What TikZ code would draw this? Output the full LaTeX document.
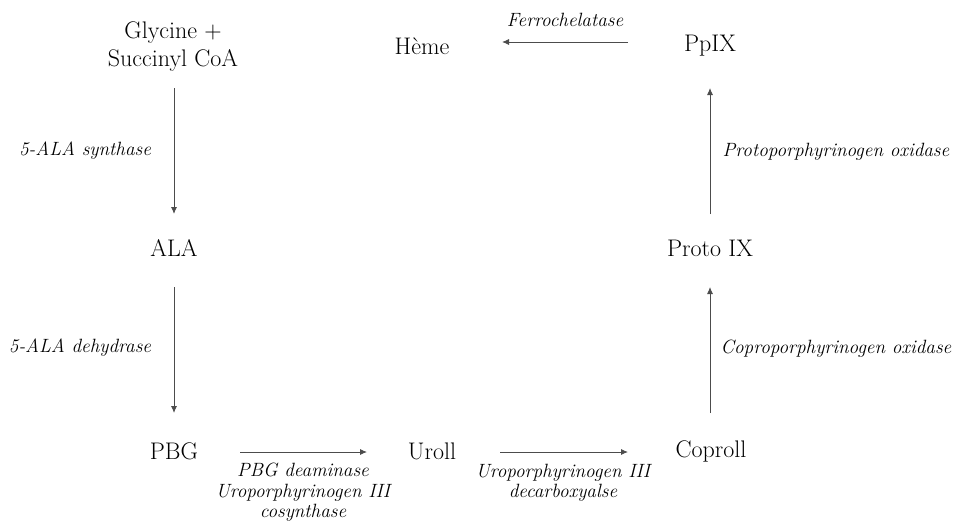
\documentclass[tikz,border=0pt]{standalone}
\usetikzlibrary{arrows.meta}
\begin{document}
\begin{tikzpicture}[x=1pt,y=-1pt,
  met/.style={inner sep=0pt,align=center,font=\fontsize{24}{28}\selectfont},
  enz/.style={inner sep=0pt,align=center,font=\fontsize{19.2}{20.5}\selectfont\itshape},
  rxn/.style={draw=black!70,line width=0.9pt,-{Latex[length=7pt,width=6pt]}}]
\useasboundingbox (0,0) rectangle (955,522);
\node[met] (gly) at (173,47) {Glycine +\\Succinyl CoA};
\node[met] (heme) at (422,46) {Hème};
\node[met] (ppix) at (710,46) {PpIX};
\node[met] (ala) at (174,248) {ALA};
\node[met] (proto) at (710,248) {Proto IX};
\node[met] (pbg) at (174,451) {PBG};
\node[met] (uro) at (432,451) {Uroll};
\node[met] (copro) at (711,451) {Coproll};
\coordinate (a1s) at (174,88); \coordinate (a1e) at (174,214);
\coordinate (a2s) at (174,287); \coordinate (a2e) at (174,413);
\coordinate (a3s) at (240,452); \coordinate (a3e) at (367,452);
\coordinate (a4s) at (500,452); \coordinate (a4e) at (628,452);
\coordinate (a5s) at (710,413); \coordinate (a5e) at (710,287);
\coordinate (a6s) at (710,214); \coordinate (a6e) at (710,88);
\coordinate (a7s) at (628,42); \coordinate (a7e) at (502,42);
\draw[rxn] (a1s) -- (a1e);
\draw[rxn] (a2s) -- (a2e);
\draw[rxn] (a3s) -- (a3e);
\draw[rxn] (a4s) -- (a4e);
\draw[rxn] (a5s) -- (a5e);
\draw[rxn] (a6s) -- (a6e);
\draw[rxn] (a7s) -- (a7e);
\node[enz] (e1) at (85,151) {5-ALA synthase};
\node[enz] (e2) at (80,348) {5-ALA dehydrase};
\node[enz] (e3) at (303,492.5) {PBG deaminase\\Uroporphyrinogen III\\cosynthase};
\node[enz] (e4) at (563,483) {Uroporphyrinogen III\\decarboxyalse};
\node[enz] (e5) at (836,349) {Coproporphyrinogen oxidase};
\node[enz] (e6) at (836,152) {Protoporphyrinogen oxidase};
\node[enz] (e7) at (565,20) {Ferrochelatase};
\end{tikzpicture}
\end{document}
